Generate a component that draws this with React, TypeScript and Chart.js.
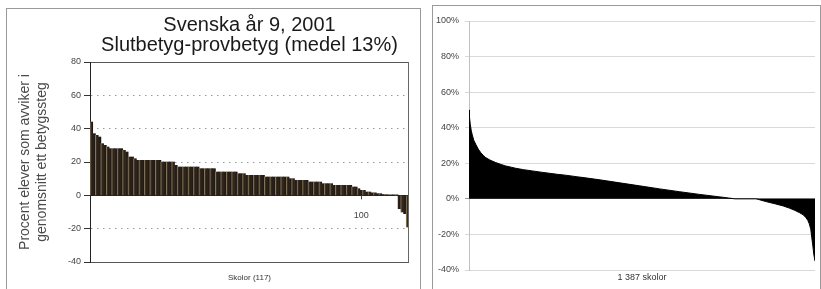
import React, { useEffect, useRef } from "react";
import { Chart, registerables } from "chart.js";

Chart.register(...registerables);

// ---------- Left chart data ----------
const leftTitle = ["Svenska år 9, 2001", "Slutbetyg-provbetyg (medel 13%)"];
const leftYTitle = ["Procent elever som avviker i", "genomsnitt ett betygssteg"];
const leftXTitle = "Skolor (117)";
const leftMarkedSchool = 100;
const leftYTicks = { min: -40, max: 80, step: 20 };
const leftValues = [
  44, 37, 36, 35, 31, 30, 29, 28, 28, 28, 28, 28, 27, 26, 23, 23, 22, 21,
  21, 21, 21, 21, 21, 21, 21, 21,
  20, 20, 20, 20, 20,
  18,
  17, 17, 17, 17, 17, 17, 17, 17,
  16, 16, 16, 16, 16, 16,
  14, 14, 14, 14, 14, 14, 14, 14,
  13, 13, 13, 12, 12, 12, 12, 12, 12, 12,
  11, 11, 11, 11, 11, 11, 11, 11, 11,
  10, 10, 9, 9, 9,
  9, 9, 8, 8, 8, 8, 8,
  7, 7, 7, 7, 6, 6, 6, 6, 6, 6, 6,
  5, 5, 4,
  3, 3,
  2, 2, 1.5, 1.5, 1, 1,
  0.5, 0.4, 0.3, 0.3, 0.2, 0.1,
  -8, -10, -11, -19,
];
const leftCategories = leftValues.map((_, i) => String(i + 1));

// ---------- Right chart data ----------
const rightXTitle = "1 387 skolor";
const rightSchoolCount = 1387;
const rightYTicks = { min: -40, max: 100, step: 20 };
const rightSchoolIndex = [
  1, 3, 6, 10, 14, 20, 28, 38, 48, 58, 68, 85, 108, 130, 148, 170, 188, 220,
  255, 290, 322, 355, 388, 430, 468, 530, 605, 685, 765, 845, 925, 1000, 1040,
  1066, 1150, 1160, 1190, 1230, 1260, 1284, 1305, 1324, 1340, 1350, 1358, 1364,
  1370, 1374, 1378, 1382, 1387,
];
const rightValues = [
  50, 46, 42, 38.5, 36, 33, 30.7, 28, 26, 24.5, 23.2, 21.8, 20.4, 19.3, 18.5,
  17.8, 17.2, 16.4, 15.7, 15, 14.4, 13.8, 13.3, 12.5, 11.8, 10.6, 9, 7.3, 5.6,
  4, 2.5, 1.2, 0.5, 0, 0, -0.3, -1.5, -2.9, -4, -5.2, -6.4, -7.7, -9, -10.5,
  -12, -14, -17, -21.7, -26, -31, -35,
];

const SANS = "'Liberation Sans', Arial, Helvetica, sans-serif";
const NARROW = "'Liberation Sans Narrow', 'Liberation Sans', Arial, sans-serif";

function LeftChart() {
  const ref = useRef<HTMLCanvasElement | null>(null);
  useEffect(() => {
    if (!ref.current) return;
    const framePlugin = {
      id: "leftFrame",
      afterDatasetsDraw(chart: any) {
        const { ctx, chartArea } = chart;
        const xs = chart.scales.x;
        const ys = chart.scales.y;
        ctx.save();
        ctx.strokeStyle = "#666";
        ctx.lineWidth = 1;
        ctx.beginPath();
        ctx.moveTo(Math.round(chartArea.right) - 0.5, chartArea.top);
        ctx.lineTo(Math.round(chartArea.right) - 0.5, chartArea.bottom);
        ctx.stroke();
        // marked category label
        const x = xs.getPixelForValue(leftMarkedSchool - 1);
        const y0 = ys.getPixelForValue(0);
        ctx.strokeStyle = "#444";
        ctx.beginPath();
        ctx.moveTo(Math.round(x) + 0.5, y0);
        ctx.lineTo(Math.round(x) + 0.5, y0 + 4);
        ctx.stroke();
        ctx.fillStyle = "#444";
        ctx.font = `9px ${SANS}`;
        ctx.textAlign = "center";
        ctx.textBaseline = "middle";
        ctx.fillText(String(leftMarkedSchool), x, y0 + 20);
        ctx.restore();
      },
    };
    const chart = new Chart(ref.current, {
      type: "bar",
      data: {
        labels: leftCategories,
        datasets: [
          {
            data: leftValues,
            borderWidth: 0,
            barPercentage: 1,
            categoryPercentage: 1,
            backgroundColor: (c: any) => {
              const chart = c.chart;
              const xs = chart.scales && chart.scales.x;
              if (!xs || c.dataIndex == null) return "#2a2017";
              const x = xs.getPixelForValue(c.dataIndex);
              const w = xs.width / leftValues.length;
              if (!isFinite(x) || !isFinite(w) || w <= 0) return "#2a2017";
              const g = chart.ctx.createLinearGradient(x - w / 2, 0, x + w / 2, 0);
              if (c.dataIndex % 2 === 0) {
                g.addColorStop(0, "#8f7e62");
                g.addColorStop(0.35, "#3d3125");
                g.addColorStop(1, "#1c150f");
              } else {
                g.addColorStop(0, "#2e241a");
                g.addColorStop(1, "#1a140e");
              }
              return g;
            },
          },
        ],
      },
      options: {
        animation: false,
        responsive: false,
        maintainAspectRatio: false,
        layout: { padding: { left: 0, right: 11, top: 0, bottom: 0 } },
        plugins: {
          legend: { display: false },
          tooltip: { enabled: false },
          title: {
            display: true,
            fullSize: false,
            text: leftTitle,
            color: "#1a1a1a",
            font: { family: SANS, size: 20, weight: "normal", lineHeight: 1 },
            padding: { top: 15, bottom: 7 },
          },
        },
        scales: {
          x: {
            type: "category",
            offset: true,
            ticks: { display: false },
            grid: { display: false },
            border: { display: false },
            title: {
              display: true,
              text: leftXTitle,
              color: "#333",
              font: { family: SANS, size: 8 },
              padding: { top: 0, bottom: 6.2 },
            },
            afterFit: (s: any) => {
              s.height = 27;
            },
          },
          y: {
            min: leftYTicks.min,
            max: leftYTicks.max,
            ticks: {
              stepSize: leftYTicks.step,
              color: "#444",
              font: { family: SANS, size: 9 },
              padding: 3,
            },
            grid: {
              color: (c: any) => {
                const v = c.tick ? c.tick.value : null;
                if (v === 0) return "#222";
                if (v === leftYTicks.max || v === leftYTicks.min) return "#555";
                return "#999";
              },
              tickColor: "#333",
              tickLength: 6,
              tickBorderDash: [],
              lineWidth: 1,
            },
            border: {
              display: true,
              color: "#222",
              width: 1,
              dash: (c: any) => {
                const v = c.tick ? c.tick.value : null;
                if (v === null || v === 0 || v === leftYTicks.max || v === leftYTicks.min) return [];
                return [1.5, 4.5];
              },
            },
            title: {
              display: true,
              text: leftYTitle,
              color: "#4a4a4a",
              font: { family: SANS, size: 14, lineHeight: "17px" },
              padding: { top: 16.5, bottom: 0 },
            },
            afterFit: (s: any) => {
              s.width = 90;
            },
          },
        },
      },
      plugins: [framePlugin],
    } as any);
    return () => chart.destroy();
  }, []);
  return <canvas ref={ref} width={420} height={289} style={{ position: "absolute", left: 0, top: 0 }} />;
}

function RightChart() {
  const ref = useRef<HTMLCanvasElement | null>(null);
  useEffect(() => {
    if (!ref.current) return;
    const points = rightSchoolIndex.map((x, i) => ({ x, y: rightValues[i] }));
    const chart = new Chart(ref.current, {
      type: "line",
      data: {
        datasets: [
          {
            data: points,
            borderColor: "#000",
            borderWidth: 1,
            backgroundColor: "#000",
            fill: "origin",
            pointRadius: 0,
            tension: 0,
          },
        ],
      },
      options: {
        animation: false,
        responsive: false,
        maintainAspectRatio: false,
        layout: { padding: { left: 0, right: 6, top: 21, bottom: 0 } },
        plugins: {
          legend: { display: false },
          tooltip: { enabled: false },
        },
        scales: {
          x: {
            type: "linear",
            min: 1,
            max: rightSchoolCount,
            ticks: { display: false },
            grid: { display: false },
            border: { display: false },
            title: {
              display: true,
              text: rightXTitle,
              color: "#333",
              font: { family: NARROW, size: 9 },
              padding: { top: 0, bottom: 5.6 },
            },
            afterFit: (s: any) => {
              s.height = 19;
            },
          },
          y: {
            min: rightYTicks.min,
            max: rightYTicks.max,
            ticks: {
              stepSize: rightYTicks.step,
              color: "#444",
              font: { family: NARROW, size: 9 },
              padding: 6,
              callback: (v: any) => `${v}%`,
            },
            grid: {
              color: (c: any) => (c.tick && c.tick.value === 0 ? "#9a9a9a" : "#d9d9d9"),
              tickColor: (c: any) => (c.tick && c.tick.value === 0 ? "#9a9a9a" : "#d9d9d9"),
              tickLength: 4,
              lineWidth: 1,
            },
            border: { display: true, color: "#c0c0c0", width: 1 },
            afterFit: (s: any) => {
              s.width = 44;
            },
          },
        },
      },
    } as any);
    return () => chart.destroy();
  }, []);
  return <canvas ref={ref} width={396} height={289} style={{ position: "absolute", left: 425, top: 0 }} />;
}

export default function App() {
  return (
    <div
      style={{
        position: "absolute",
        left: 0,
        top: 0,
        width: 821,
        height: 289,
        overflow: "hidden",
        background: "#fff",
      }}
    >
      <div
        style={{
          position: "absolute",
          left: 6,
          top: 8,
          width: 413,
          height: 300,
          border: "1px solid #9a9a9a",
        }}
      />
      <div
        style={{
          position: "absolute",
          left: 432,
          top: 5,
          width: 387,
          height: 300,
          border: "1px solid #9a9a9a",
        }}
      />
      <LeftChart />
      <RightChart />
    </div>
  );
}
